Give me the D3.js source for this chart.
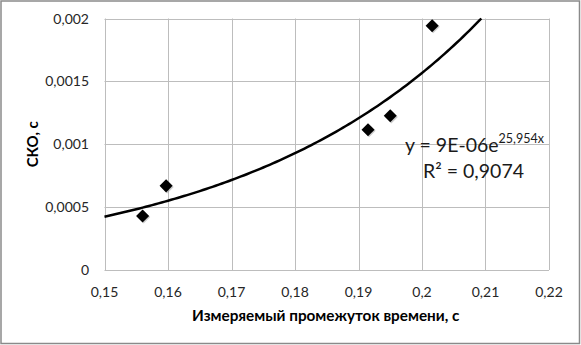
<!DOCTYPE html>
<html lang="ru">
<head>
<meta charset="UTF-8">
<title>СКО</title>
<script src="https://d3js.org/d3.v7.min.js"></script>
<style>
  body { margin: 0; background: #fff; }
  text { font-family: Lato, "Open Sans", sans-serif; fill: #000; }
</style>
</head>
<body>
<div id="chart"></div>
<script>
// данные
const xValues = [0.1560, 0.1597, 0.1915, 0.1950, 0.2016];
const yValues = [0.00043, 0.000669, 0.001115, 0.001226, 0.001943];
const xTicks = [0.15, 0.16, 0.17, 0.18, 0.19, 0.20, 0.21, 0.22];
const yTicks = [0, 0.0005, 0.001, 0.0015, 0.002];
const xTitle = "Измеряемый промежуток времени, с";
const yTitle = "СКО, с";

const width = 581, height = 345;
const margin = {left: 104.5, right: 32, top: 18.5, bottom: 75};

const svg = d3.select("#chart").append("svg")
    .attr("width", width).attr("height", height);

// рамка
svg.append("rect")
    .attr("x", 1).attr("y", 1).attr("width", width - 2.5).attr("height", height - 2.5)
    .attr("fill", "#fff").attr("stroke", "#8a8a8a").attr("stroke-width", 1.5);

const x = d3.scaleLinear().domain([0.15, 0.22]).range([margin.left, width - margin.right]);
const y = d3.scaleLinear().domain([0, 0.002]).range([height - margin.bottom, margin.top]);

const fmt = d => d3.format("~g")(+d.toFixed(4)).replace(".", ",");

// сетка
svg.append("g").selectAll("line").data(xTicks).join("line")
    .attr("x1", d => Math.round(x(d)) + 0.5).attr("x2", d => Math.round(x(d)) + 0.5)
    .attr("y1", y(0.002)).attr("y2", y(0))
    .attr("stroke", "#bdbdbd").attr("stroke-width", 1);
svg.append("g").selectAll("line").data(yTicks).join("line")
    .attr("x1", x(0.15)).attr("x2", x(0.22))
    .attr("y1", d => Math.round(y(d)) + 0.5).attr("y2", d => Math.round(y(d)) + 0.5)
    .attr("stroke", "#bdbdbd").attr("stroke-width", 1);

// подписи осей
svg.append("g").selectAll("text").data(xTicks).join("text")
    .attr("x", d => x(d)).attr("y", 297)
    .attr("text-anchor", "middle").style("font-size", "14px").style("fill", "#262626")
    .text(fmt);
svg.append("g").selectAll("text").data(yTicks).join("text")
    .attr("x", 89).attr("y", d => y(d) + 5)
    .attr("text-anchor", "end").style("font-size", "14px").style("fill", "#262626")
    .text(fmt);

svg.append("text")
    .attr("x", (x(0.15) + x(0.22)) / 2 - 1).attr("y", 321)
    .attr("text-anchor", "middle").style("font-size", "15.3px").style("font-weight", "bold")
    .text(xTitle);
svg.append("text")
    .attr("transform", `translate(38,${(y(0) + y(0.002)) / 2}) rotate(-90)`)
    .attr("text-anchor", "middle").style("font-size", "15px").style("font-weight", "bold")
    .text(yTitle);

// экспоненциальный тренд: ln y = ln a + b x
const lx = xValues, ly = yValues.map(Math.log);
const mx = d3.mean(lx), my = d3.mean(ly);
const b = d3.sum(lx, (v, i) => (v - mx) * (ly[i] - my)) / d3.sum(lx, v => (v - mx) ** 2);
const a = Math.exp(my - b * mx);
const xEnd = Math.min(0.22, Math.log(0.002 / a) / b);
const trend = d3.range(0.15, xEnd, 0.0005).concat([xEnd]);

svg.append("path")
    .datum(trend)
    .attr("fill", "none").attr("stroke", "#000").attr("stroke-width", 2.5)
    .attr("d", d3.line().x(d => x(d)).y(d => y(a * Math.exp(b * d))));

// точки
const diamond = d3.symbol().type(d3.symbolSquare).size(85);
const pts = svg.append("g").selectAll("g").data(xValues).join("g")
    .attr("transform", (d, i) => `translate(${x(d)},${y(yValues[i])}) rotate(45)`);
pts.append("path").attr("d", diamond).attr("fill", "#999").attr("opacity", 0.5)
    .attr("transform", "translate(1.5,0)");
pts.append("path").attr("d", diamond).attr("fill", "#000");

// уравнение
const eq = svg.append("text").attr("x", 405).attr("y", 152).style("font-size", "19.5px").style("fill", "#1a1a1a");
eq.append("tspan").text("y = 9E-06e");
eq.append("tspan").attr("dy", -9).style("font-size", "12.5px").text("25,954x");
svg.append("text").attr("x", 423).attr("y", 178).style("font-size", "19.5px").style("fill", "#1a1a1a")
    .text("R² = 0,9074");
</script>
</body>
</html>
